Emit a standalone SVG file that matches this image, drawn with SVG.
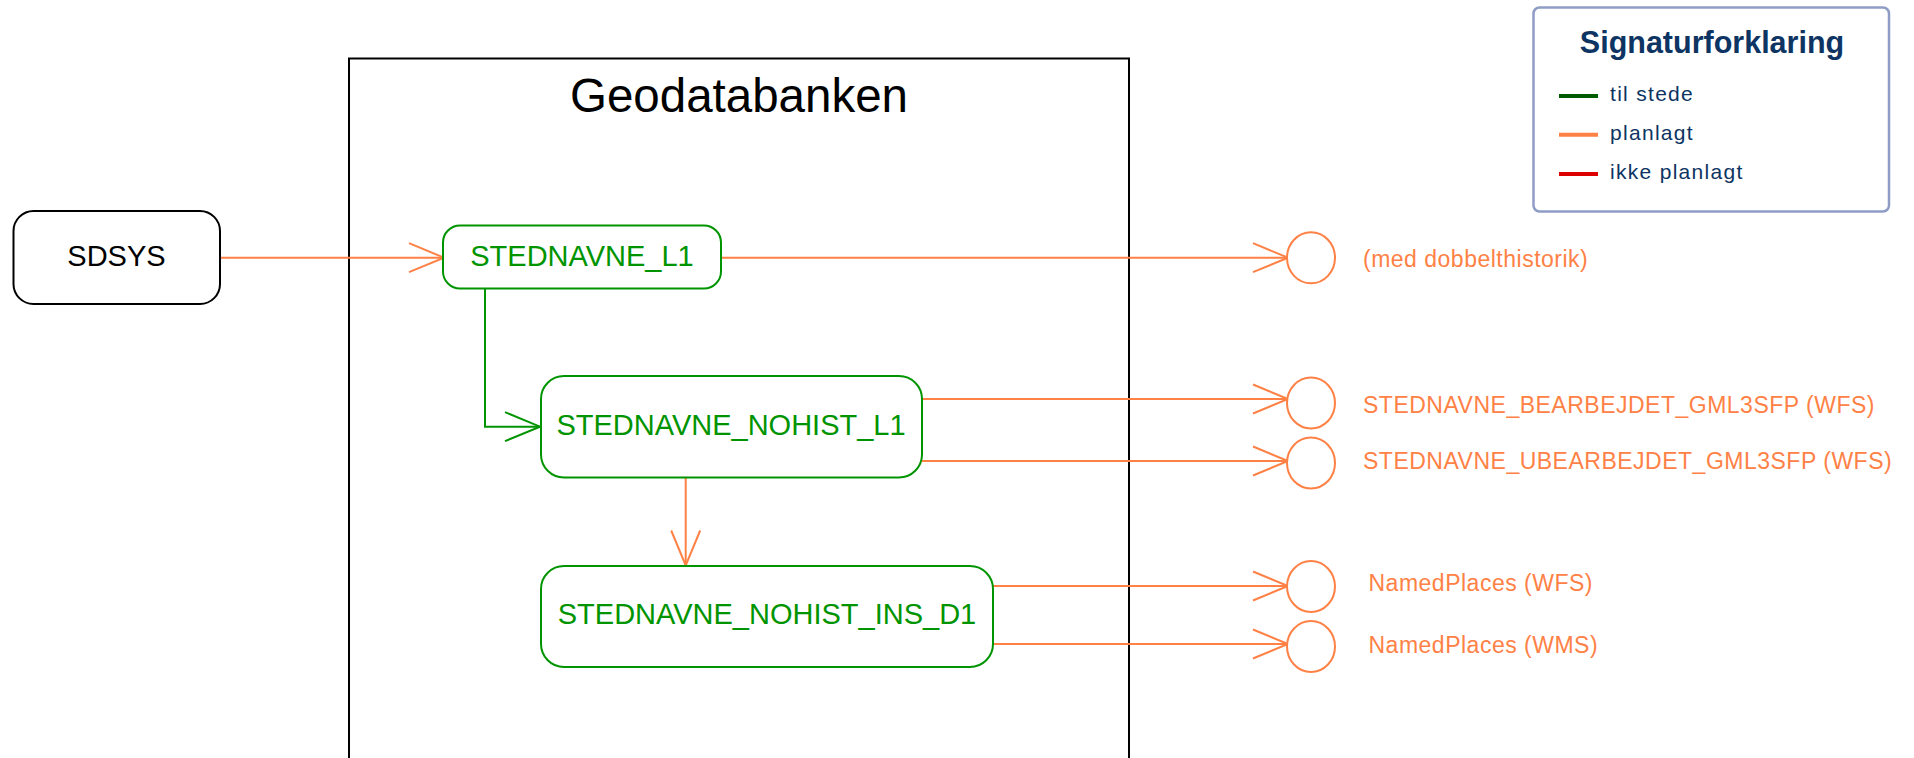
<svg xmlns="http://www.w3.org/2000/svg" width="1914" height="758" viewBox="0 0 1914 758">
<style>
  .node { fill: #ffffff; stroke-width: 2; }
  .green { stroke: #009400; }
  .black { stroke: #000000; }
  .ntext { font-family: "Liberation Sans", Arial, sans-serif; font-size: 29px; text-anchor: middle; }
  .gtext { fill: #009400; }
  .conn { fill: none; stroke-width: 2; }
  .orange { stroke: #FF8145; }
  .iface { fill: #ffffff; stroke: #FF8145; stroke-width: 2; }
  .otext { font-family: "Liberation Sans", Arial, sans-serif; font-size: 23px; fill: #FF8145; letter-spacing: 0.5px; }
  .ltext { font-family: "Liberation Sans", Arial, sans-serif; font-size: 21px; fill: #0D3462; letter-spacing: 1.3px; }
</style>
<defs>
  <marker id="arrO" markerUnits="userSpaceOnUse" markerWidth="40" markerHeight="34" refX="36" refY="15" orient="auto" overflow="visible">
    <path d="M1,0.5 L36,15 L1,29.5" fill="none" stroke="#FF8145" stroke-width="2"/>
  </marker>
  <marker id="arrG" markerUnits="userSpaceOnUse" markerWidth="40" markerHeight="34" refX="36" refY="15" orient="auto" overflow="visible">
    <path d="M1,0.5 L36,15 L1,29.5" fill="none" stroke="#009400" stroke-width="2"/>
  </marker>
</defs>
<rect width="1914" height="758" fill="#ffffff"/>

<g id="geodatabanken">
  <rect x="349" y="58.5" width="780" height="740" fill="none" stroke="#000000" stroke-width="2"/>
  <text x="739" y="112" font-family="Liberation Sans, Arial, sans-serif" font-size="47.5" text-anchor="middle" fill="#000000">Geodatabanken</text>
</g>

<g id="connectors">
  <path class="conn orange" d="M220,257.7 H444" marker-end="url(#arrO)"/>
  <path class="conn green" d="M485,288.5 V426.7 H540" marker-end="url(#arrG)"/>
  <path class="conn orange" d="M685.7,477.5 V565.5" marker-end="url(#arrO)"/>
  <path class="conn orange" d="M721.5,257.7 H1288" marker-end="url(#arrO)"/>
  <path class="conn orange" d="M922,399 H1288" marker-end="url(#arrO)"/>
  <path class="conn orange" d="M922,461 H1288" marker-end="url(#arrO)"/>
  <path class="conn orange" d="M993,586 H1288" marker-end="url(#arrO)"/>
  <path class="conn orange" d="M993,644 H1288" marker-end="url(#arrO)"/>
</g>

<g id="SDSYS">
  <rect class="node black" x="13.5" y="211" width="206.5" height="93" rx="20"/>
  <text class="ntext" x="116.5" y="266" font-size="30" fill="#000000">SDSYS</text>
</g>

<g id="STEDNAVNE_L1">
  <rect class="node green" x="443" y="225.5" width="278" height="63" rx="17"/>
  <text class="ntext gtext" x="582" y="265.5" font-size="29.8">STEDNAVNE_L1</text>
</g>

<g id="STEDNAVNE_NOHIST_L1">
  <rect class="node green" x="541" y="376" width="381" height="101.5" rx="23"/>
  <text class="ntext gtext" x="731" y="435">STEDNAVNE_NOHIST_L1</text>
</g>

<g id="STEDNAVNE_NOHIST_INS_D1">
  <rect class="node green" x="541" y="566" width="452" height="101" rx="23"/>
  <text class="ntext gtext" x="767" y="624">STEDNAVNE_NOHIST_INS_D1</text>
</g>

<g id="iface1">
  <ellipse class="iface" cx="1311" cy="257.8" rx="24" ry="25.5"/>
  <text class="otext" x="1363" y="266.5">(med dobbelthistorik)</text>
</g>
<g id="iface2">
  <ellipse class="iface" cx="1311" cy="403" rx="24" ry="25.5"/>
  <text class="otext" x="1363" y="412.5">STEDNAVNE_BEARBEJDET_GML3SFP (WFS)</text>
</g>
<g id="iface3">
  <ellipse class="iface" cx="1311" cy="463" rx="24" ry="25.5"/>
  <text class="otext" x="1363" y="468.5">STEDNAVNE_UBEARBEJDET_GML3SFP (WFS)</text>
</g>
<g id="iface4">
  <ellipse class="iface" cx="1311" cy="586.5" rx="24" ry="25.5"/>
  <text class="otext" x="1368.5" y="590.7">NamedPlaces (WFS)</text>
</g>
<g id="iface5">
  <ellipse class="iface" cx="1311" cy="646.5" rx="24" ry="25.5"/>
  <text class="otext" x="1368.5" y="653.3">NamedPlaces (WMS)</text>
</g>

<g id="legend">
  <rect x="1533.5" y="7.5" width="355.5" height="204" rx="6" fill="#ffffff" stroke="#8E9CC6" stroke-width="2.5"/>
  <text x="1712" y="53.3" font-family="Liberation Sans, Arial, sans-serif" font-size="30.5" font-weight="bold" text-anchor="middle" fill="#0D3462">Signaturforklaring</text>
  <line x1="1559" y1="96" x2="1598" y2="96" stroke="#005A00" stroke-width="4"/>
  <text class="ltext" x="1610" y="100.7">til stede</text>
  <line x1="1559" y1="134.7" x2="1598" y2="134.7" stroke="#FF8145" stroke-width="4"/>
  <text class="ltext" x="1610" y="140">planlagt</text>
  <line x1="1559" y1="174" x2="1598" y2="174" stroke="#DD0000" stroke-width="4"/>
  <text class="ltext" x="1610" y="179.3">ikke planlagt</text>
</g>
</svg>
